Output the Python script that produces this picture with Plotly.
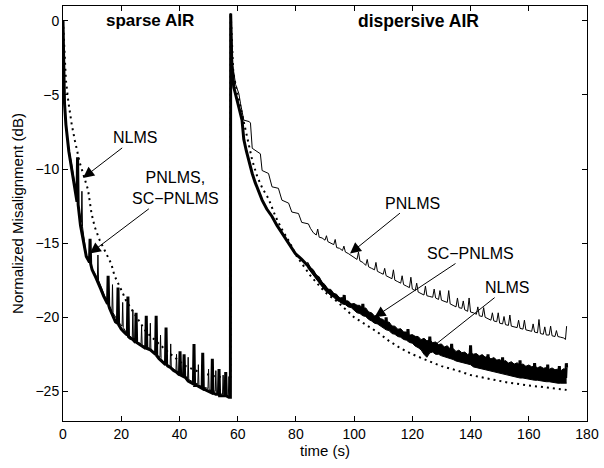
import plotly.graph_objects as go

# ---------------- data ----------------
# NLMS (dotted)
nlms_t = [0, 0.5, 1, 1.8, 3, 4.1, 5.8, 6.9, 8.6, 9.8, 10.9, 12.6, 14.3, 16.6, 17.7, 19.5, 20.6, 21.7,
          24, 28.6, 33, 37.6, 42.2, 46.8, 52.4, 57.5, 57.6,
          58, 58.5, 59.5, 60.5, 61.5, 62.5, 63.8, 65, 66.7, 68.5, 70.6, 73, 75, 78, 80, 85, 90, 94.5,
          100, 104.8, 108, 112, 116, 120, 125, 130, 135.5, 140, 145, 152.6, 160, 169.6, 173]
nlms_y = [0, -2.5, -4, -5.4, -7, -8.1, -9.6, -10.3, -11.4, -13, -13.9, -14.8, -15.5, -16.4, -17.2, -17.9, -18.4, -18.9,
          -19.6, -21, -21.8, -22.6, -23.3, -23.7, -24, -24.1, 0.5,
          -1.5, -3.5, -4.5, -5.4, -6.2, -7.2, -8.3, -9.4, -10.5, -11.3, -12.0, -13.2, -14.0, -15.0, -15.8, -17.2, -18.3, -19.0,
          -20.0, -20.6, -21.0, -21.6, -22.1, -22.5, -22.9, -23.3, -23.6, -23.9, -24.1, -24.4, -24.6, -24.8, -24.9]

# PNLMS (thin solid)
pnlms_t = [0, 0.3, 0.7, 1.2, 2.0, 3.0, 4.0, 5.0, 6.3, 6.5, 6.7, 8.0, 9.0, 10, 11.8, 12.0, 12.2, 13.5, 15,
           16.8, 17.0, 17.2, 19, 20.3, 20.5, 20.7, 22, 23.8, 24.0, 24.2, 26, 26.8, 27.0, 27.2, 29.8, 30.0, 30.2,
           32, 33.3, 33.5, 33.7, 35, 36.8, 37.0, 37.2, 38.8, 39.0, 39.2, 41, 42.8, 43.0, 43.2, 45, 46.3, 46.5, 46.7,
           48, 49.8, 50.0, 50.2, 52.3, 52.5, 52.7, 54.8, 55.0, 55.2, 56.8, 57.0, 57.2, 57.5, 57.6,
           57.9, 58.3, 59.3, 60.4, 61, 62.1, 64.0, 64.4, 65, 67.8, 68.4, 70.6, 71.8, 74, 75.2, 77.5, 78.6, 80.9,
           82, 84.3, 85,
           86, 87, 87.5, 88, 89, 90, 90.5, 91, 92, 93, 93.5, 94, 95, 96, 96.5, 97, 98, 99, 100, 101, 101.5, 102,
           103, 104, 104.5, 105, 106, 107, 107.5, 108, 109, 110, 110.5, 111, 112, 113, 113.5, 114, 115, 116, 116.5,
           117, 118, 119, 119.5, 120, 121, 121.5, 122, 123, 124, 124.5, 125, 126, 127, 127.5, 128, 129, 129.5, 130,
           131, 132, 132.5, 133, 134, 135, 135.5, 136, 137, 137.5, 138, 139, 139.5, 140, 141, 142, 142.5, 143, 144,
           144.5, 145, 146, 147, 147.5, 148, 149, 149.5, 150, 151, 151.5, 152, 153, 153.5, 154, 155, 156, 156.5,
           157, 158, 158.5, 159, 160, 161, 161.5, 162, 163, 163.5, 164, 165, 165.5, 166, 167, 167.5, 168, 169,
           169.5, 170, 171, 172, 172.6, 173]
pnlms_y = [0, -3.5, -6.0, -7.4, -8.6, -9.7, -11.0, -12.2, -13.6, -11.5, -13.9, -15.8, -16.2, -16.7, -17.4, -15.8, -17.5, -18.2, -18.9,
           -19.6, -17.8, -19.7, -20.3, -20.6, -19.0, -20.7, -21.1, -21.4, -19.5, -21.5, -21.7, -21.8, -20.6, -21.9, -22.1, -20.4, -22.2,
           -22.5, -22.7, -21.2, -22.8, -23.1, -23.3, -21.8, -23.4, -23.6, -22.5, -23.7, -23.9, -24.1, -22.7, -24.2, -24.4, -24.5, -23.2, -24.6,
           -24.7, -24.8, -23.5, -24.9, -25.0, -23.6, -25.1, -25.2, -23.9, -25.2, -25.3, -24.0, -25.3, -25.35, 0.5,
           -1.5, -3.0, -4.3, -4.9, -5.6, -6.7, -6.8, -6.9, -8.6, -8.97, -10.1, -10.3, -11.2, -11.3, -12.1, -12.3, -12.9, -13.0,
           -13.6, -13.7, -14.0,
           -14.3, -14.45, -14.05, -14.6, -14.65, -14.8, -14.5, -14.9, -15.0, -15.1, -14.75, -15.3, -15.35, -15.5, -15.2, -15.6, -15.7, -15.85, -16.0, -16.1, -15.6, -16.2,
           -16.3, -16.5, -16.1, -16.6, -16.7, -16.8, -16.3, -16.9, -17.0, -17.1, -16.7, -17.2, -17.3, -17.4, -16.8, -17.5, -17.6, -17.7, -17.2,
           -17.8, -17.9, -18.0, -17.3, -18.1, -18.2, -17.7, -18.3, -18.4, -18.5, -17.9, -18.55, -18.6, -18.65, -18.1, -18.7, -18.8, -18.2, -18.85,
           -18.9, -19.0, -18.2, -19.1, -19.2, -19.3, -18.7, -19.35, -19.4, -18.9, -19.5, -19.6, -18.7, -19.65, -19.7, -19.8, -19.3, -19.9, -19.95,
           -19.35, -20.0, -20.1, -20.2, -19.7, -20.25, -20.3, -19.7, -20.4, -20.45, -19.95, -20.5, -20.55, -19.85, -20.6, -20.65, -20.7, -20.2,
           -20.75, -20.8, -20.2, -20.85, -20.9, -20.95, -20.45, -21.0, -21.05, -20.15, -21.1, -21.15, -20.65, -21.2, -21.2, -20.6, -21.25, -21.3,
           -20.9, -21.3, -21.35, -21.4, -21.5, -20.6]

# SC-PNLMS (thick solid) - centre line
sc_t = [0, 0.2, 0.5, 1.0, 1.5, 2.0, 2.5, 3.0, 4.0, 4.8, 5.0, 5.2, 6.0, 7.0, 8.0, 9.1, 9.3, 9.5, 10, 11, 12, 13, 14,
        15.3, 15.5, 15.7, 16, 17, 18, 18.7, 18.9, 19.1, 20, 21, 22.1, 22.3, 22.5, 23, 24, 24.9, 25.1, 25.3, 26, 27,
        28.4, 28.6, 28.8, 30, 31, 31.8, 32.0, 32.2, 33, 34, 35.2, 35.4, 35.6, 36, 37, 38, 39, 40.0, 40.2, 40.4,
        41.4, 41.6, 41.8, 43, 44, 44.8, 45.0, 45.2, 46, 47, 47.8, 48.0, 48.2, 49, 50, 51.1, 51.3, 51.5, 52.5,
        53.4, 53.6, 53.8, 54.5, 55.7, 55.9, 56.1, 57, 57.5, 57.6,
        57.8, 58.0, 58.7, 59.5, 60.5, 61.5, 62.1, 63, 64, 65, 66, 67, 68.4, 70, 71.8, 73.5, 75.2, 77.5, 79.8, 82,
        84, 86, 88, 90, 92, 94, 96, 96.4, 96.6, 96.8, 98, 100, 102, 102.8, 103, 103.2, 104, 106, 108, 110, 110.8,
        111, 111.2, 112, 114, 116, 118, 118.3, 118.5, 118.7, 120, 122, 124, 125.8, 126, 126.2, 128, 130, 132,
        133.3, 133.5, 133.7, 134, 136, 138, 139.8, 140, 140.2, 142, 144, 145.8, 146, 146.2, 148, 150, 150.8, 151,
        151.2, 152, 154, 156, 156.8, 157, 157.2, 158, 160, 161.8, 162, 162.2, 164, 166, 166.3, 166.5, 166.7, 168,
        170, 170.3, 170.5, 170.7, 172, 172.7, 172.9, 173]
sc_y = [0, -3, -5.5, -7, -8, -8.8, -9.4, -10, -11.3, -12.2, -9.2, -12.4, -13.8, -15.0, -15.9, -16.3, -14.7, -16.4, -16.8, -17.2, -17.6, -18.1, -18.6,
        -19.1, -17.2, -19.2, -19.4, -19.9, -20.3, -20.4, -18.0, -20.5, -20.8, -21.0, -21.2, -18.6, -21.3, -21.4, -21.5, -21.7, -19.7, -21.7, -21.8, -21.9,
        -22.1, -19.9, -22.1, -22.2, -22.4, -22.5, -19.9, -22.6, -22.8, -23.0, -23.2, -20.7, -23.2, -23.3, -23.4, -23.6, -23.7, -23.9, -22.3, -23.9,
        -24.0, -22.5, -24.0, -24.3, -24.4, -24.5, -21.8, -24.6, -24.6, -24.7, -24.8, -22.4, -24.8, -24.9, -25.0, -25.1, -22.8, -25.1, -25.2,
        -25.2, -23.5, -25.3, -25.3, -25.3, -23.7, -25.3, -25.4, -25.4, 0.5,
        -1.0, -3.0, -4.5, -5.2, -5.9, -6.7, -8.0, -8.8, -9.6, -10.3, -10.9, -11.4, -12.1, -12.7, -13.2, -13.8, -14.3, -15.0, -15.7, -16.1,
        -16.5, -17.0, -17.5, -18.0, -18.35, -18.65, -18.9, -18.9, -18.5, -18.95, -19.1, -19.3, -19.5, -19.55, -19.1, -19.6, -19.7, -20.0, -20.2, -20.45, -20.55,
        -20.0, -20.6, -20.65, -20.9, -21.1, -21.3, -21.35, -20.8, -21.4, -21.5, -21.7, -21.85, -21.95, -21.3, -21.95, -22.1, -22.2, -22.35,
        -22.45, -21.8, -22.5, -22.5, -22.65, -22.75, -22.85, -21.9, -22.85, -22.95, -23.05, -23.15, -22.5, -23.15, -23.25, -23.35, -23.4, -22.7,
        -23.4, -23.45, -23.5, -23.6, -23.6, -22.9, -23.65, -23.65, -23.75, -23.8, -23.1, -23.8, -23.85, -23.9, -23.9, -23.2, -23.9, -23.95,
        -24.0, -24.0, -23.3, -24.0, -24.0, -24.0, -23.1, -23.4]

# SC-PNLMS noise band (dispersive part): upper and lower envelopes
band_t = list(range(84, 174))
band_hi = [-16.27, -16.64, -16.8, -17.16, -17.27, -17.64, -17.8, -18.11, -18.12, -18.39, -18.45, -18.71, -18.67, -18.89, -18.9, -19.11,
           -19.07, -19.19, -19.2, -19.41, -19.37, -19.64, -19.7, -19.91, -19.87, -20.09, -20.15, -20.36, -20.32, -20.59, -20.6, -20.81,
           -20.77, -20.99, -21.0, -21.21, -21.17, -21.29, -21.3, -21.51, -21.42, -21.59, -21.55, -21.71, -21.67, -21.84, -21.8, -22.01,
           -21.92, -22.14, -22.1, -22.31, -22.22, -22.39, -22.35, -22.51, -22.42, -22.49, -22.45, -22.61, -22.52, -22.69, -22.65, -22.81,
           -22.72, -22.89, -22.85, -23.01, -22.92, -23.09, -23.0, -23.16, -23.07, -23.24, -23.15, -23.31, -23.22, -23.34, -23.3, -23.41,
           -23.32, -23.44, -23.4, -23.51, -23.42, -23.54, -23.5, -23.61, -23.47, -23.55]
band_lo = [-16.65, -16.9, -17.2, -17.4, -17.7, -17.9, -18.2, -18.35, -18.55, -18.65, -18.85, -18.95, -19.1, -19.15, -19.3, -19.35,
           -19.5, -19.7, -19.75, -19.9, -19.95, -20.15, -20.25, -20.4, -20.45, -20.6, -20.7, -20.85, -20.9, -21.1, -21.15, -21.3,
           -21.35, -21.5, -21.55, -21.7, -21.75, -21.95, -22.05, -22.2, -22.5, -22.7, -22.4, -22.35, -22.5, -22.5, -22.6, -22.65,
           -22.7, -22.8, -22.85, -22.95, -23.0, -23.05, -23.1, -23.15, -23.2, -23.35, -23.4, -23.45, -23.5, -23.55, -23.6, -23.65,
           -23.7, -23.75, -23.8, -23.85, -23.9, -23.95, -23.95, -24.0, -24.05, -24.1, -24.1, -24.15, -24.2, -24.2, -24.25, -24.25,
           -24.3, -24.3, -24.35, -24.35, -24.4, -24.4, -24.45, -24.45, -24.45, -24.45]

x_ticks = [0, 20, 40, 60, 80, 100, 120, 140, 160, 180]
y_ticks = [-25, -20, -15, -10, -5, 0]

FONT = "Liberation Sans, Arial, Helvetica, sans-serif"

fig = go.Figure()
fig.add_trace(go.Scatter(x=nlms_t, y=nlms_y, mode="lines", name="NLMS",
                         line=dict(color="black", width=2, dash="2px,4px")))
fig.add_trace(go.Scatter(x=pnlms_t, y=pnlms_y, mode="lines", name="PNLMS",
                         line=dict(color="black", width=1)))
fig.add_trace(go.Scatter(x=band_t, y=band_hi, mode="lines", name="SC-PNLMS band",
                         line=dict(color="black", width=1), hoverinfo="skip"))
fig.add_trace(go.Scatter(x=band_t, y=band_lo, mode="lines", name="SC-PNLMS band",
                         line=dict(color="black", width=1), fill="tonexty", fillcolor="black",
                         hoverinfo="skip"))
fig.add_trace(go.Scatter(x=sc_t, y=sc_y, mode="lines", name="SC-PNLMS",
                         line=dict(color="black", width=3)))

ann_font = dict(family=FONT, size=16, color="black")
arrows = [
    dict(text="NLMS", x=6.9, y=-10.6, ax=24.8, ay=-7.9, head=2),
    dict(text="PNLMS,<br>SC\u2212PNLMS", x=9.2, y=-15.7, ax=38.8, ay=-11.3, head=2),
    dict(text="PNLMS", x=98.6, y=-15.7, ax=120, ay=-12.3, head=2),
    dict(text="SC\u2212PNLMS", x=107, y=-20.0, ax=140, ay=-15.7, head=2),
    dict(text="NLMS", x=125, y=-22.3, ax=152.6, ay=-18.0, head=0),
]
for a in arrows:
    fig.add_annotation(x=a["x"], y=a["y"], ax=a["ax"], ay=a["ay"], xref="x", yref="y",
                       axref="x", ayref="y", text=a["text"], showarrow=True,
                       arrowhead=a["head"], arrowsize=2.2, arrowwidth=1, arrowcolor="black",
                       font=ann_font, align="center")
fig.add_annotation(x=30, y=0, xref="x", yref="y", text="<b>sparse AIR</b>", showarrow=False,
                   font=dict(family=FONT, size=17, color="black"))
fig.add_annotation(x=122, y=0, xref="x", yref="y", text="<b>dispersive AIR</b>", showarrow=False,
                   font=dict(family=FONT, size=17.5, color="black"))

axis_common = dict(showline=True, linecolor="black", linewidth=1, mirror="ticks",
                   ticks="inside", ticklen=5, tickcolor="black", tickwidth=1,
                   showgrid=False, zeroline=False,
                   tickfont=dict(family=FONT, size=14, color="black"))
fig.update_xaxes(range=[0, 180], tickvals=x_ticks,
                 title=dict(text="time (s)", font=dict(family=FONT, size=15, color="black"), standoff=4),
                 **axis_common)
fig.update_yaxes(range=[-27, 1], tickvals=y_ticks,
                 title=dict(text="Normalized Misalignment (dB)", font=dict(family=FONT, size=15, color="black"), standoff=8),
                 **axis_common)
fig.update_layout(width=604, height=468, margin=dict(l=63, r=14, t=5, b=47),
                  paper_bgcolor="white", plot_bgcolor="white", showlegend=False,
                  font=dict(family=FONT, color="black"))
fig.write_html("out.html", config={"displayModeBar": False},
               post_script="document.body.style.margin='0px';document.body.style.overflow='hidden';")
